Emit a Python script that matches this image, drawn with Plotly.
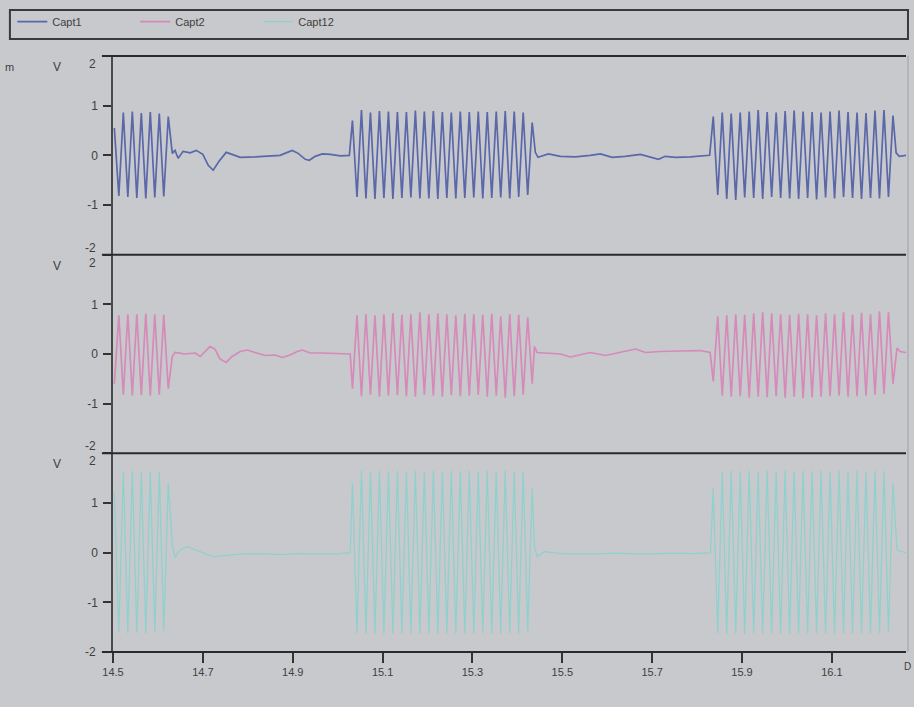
import plotly.graph_objects as go

# ---------------- data ----------------
HALF_PERIOD = 0.01          # s between successive extrema of the 50 Hz bursts
X_RANGE = [14.5, 16.265]
X_TICKS = [14.5, 14.7, 14.9, 15.1, 15.3, 15.5, 15.7, 15.9, 16.1]
Y_TICKS = [-2, -1, 0, 1, 2]
SERIES = ["Capt1", "Capt2", "Capt12"]

# burst start times (time of first extremum)
burst_t0 = [14.503, 15.033, 15.836]

# ---- Capt1 ----
c1_b1 = [0.55, -0.82, 0.86, -0.84, 0.88, -0.86, 0.85, -0.87, 0.87, -0.85, 0.84, -0.83, 0.78]
c1_b2 = [0.70, -0.84, 0.91, -0.87, 0.86, -0.88, 0.89, -0.86, 0.88, -0.88,
         0.87, -0.86, 0.87, -0.85, 0.90, -0.87, 0.88, -0.87, 0.89, -0.88,
         0.87, -0.86, 0.86, -0.87, 0.88, -0.86, 0.87, -0.85, 0.88, -0.87,
         0.87, -0.86, 0.88, -0.85, 0.89, -0.87, 0.88, -0.84, 0.86, -0.80, 0.66]
c1_b3 = [0.78, -0.80, 0.86, -0.88, 0.84, -0.90, 0.86, -0.85, 0.88, -0.86,
         0.91, -0.88, 0.87, -0.84, 0.86, -0.86, 0.89, -0.87, 0.90, -0.88,
         0.88, -0.86, 0.87, -0.89, 0.86, -0.85, 0.88, -0.87, 0.90, -0.84,
         0.87, -0.86, 0.86, -0.88, 0.85, -0.86, 0.90, -0.87, 0.91, -0.84, 0.80]
c1_q1_t = [14.632, 14.638, 14.645, 14.656, 14.672, 14.685, 14.700, 14.712, 14.723, 14.736,
           14.752, 14.765, 14.783, 14.816, 14.850, 14.872, 14.888, 14.899, 14.912, 14.928,
           14.937, 14.950, 14.966, 14.984, 15.006, 15.026]
c1_q1_v = [0.04, 0.10, -0.06, 0.08, 0.05, 0.10, 0.02, -0.20, -0.30, -0.12,
           0.06, 0.02, -0.04, -0.03, -0.02, 0.00, 0.06, 0.10, 0.04, -0.08,
           -0.10, -0.02, 0.03, 0.02, -0.01, 0.00]
c1_q2_t = [15.440, 15.446, 15.469, 15.496, 15.529, 15.562, 15.585, 15.611, 15.640, 15.674,
           15.696, 15.714, 15.729, 15.752, 15.785, 15.807, 15.828]
c1_q2_v = [0.06, -0.04, 0.03, -0.02, -0.03, 0.00, 0.03, -0.04, -0.02, 0.02,
           -0.03, -0.08, -0.02, -0.04, -0.03, -0.02, 0.00]
c1_tail_t = [16.243, 16.250, 16.265]
c1_tail_v = [0.05, -0.02, 0.00]

# ---- Capt2 ----
c2_b1 = [-0.60, 0.78, -0.82, 0.80, -0.84, 0.80, -0.83, 0.81, -0.84, 0.80, -0.82, 0.79, -0.70]
c2_b2 = [-0.70, 0.78, -0.85, 0.80, -0.82, 0.78, -0.86, 0.80, -0.84, 0.82,
         -0.83, 0.79, -0.85, 0.80, -0.86, 0.84, -0.82, 0.80, -0.84, 0.82,
         -0.86, 0.80, -0.83, 0.78, -0.85, 0.81, -0.84, 0.80, -0.82, 0.79,
         -0.86, 0.81, -0.84, 0.76, -0.88, 0.80, -0.85, 0.79, -0.82, 0.74, -0.60]
c2_b3 = [-0.55, 0.76, -0.84, 0.78, -0.86, 0.80, -0.85, 0.79, -0.88, 0.82,
         -0.86, 0.84, -0.87, 0.82, -0.85, 0.80, -0.88, 0.79, -0.86, 0.81,
         -0.89, 0.80, -0.87, 0.78, -0.86, 0.82, -0.85, 0.80, -0.84, 0.84,
         -0.86, 0.79, -0.85, 0.83, -0.84, 0.80, -0.82, 0.86, -0.80, 0.84, -0.60]
c2_q1_t = [14.632, 14.638, 14.660, 14.683, 14.694, 14.705, 14.716, 14.727, 14.738, 14.752,
           14.765, 14.783, 14.799, 14.816, 14.839, 14.861, 14.877, 14.894, 14.910, 14.921,
           14.939, 14.961, 14.984, 15.017, 15.028]
c2_q1_v = [-0.05, 0.03, 0.00, 0.02, -0.05, 0.05, 0.15, 0.10, -0.10, -0.17,
           -0.05, 0.05, 0.08, 0.03, -0.03, -0.02, -0.07, -0.02, 0.05, 0.08,
           0.02, 0.02, 0.01, 0.01, 0.00]
c2_q2_t = [15.438, 15.444, 15.462, 15.496, 15.518, 15.562, 15.596, 15.629, 15.663, 15.685,
           15.718, 15.763, 15.807, 15.829]
c2_q2_v = [0.15, 0.03, 0.02, 0.00, -0.06, 0.03, -0.03, 0.03, 0.10, 0.03,
           0.05, 0.06, 0.07, 0.03]
c2_tail_t = [16.245, 16.252, 16.265]
c2_tail_v = [0.12, 0.05, 0.03]

# ---- Capt12 ----
c3_b1 = [1.20, -1.60, 1.64, -1.62, 1.64, -1.61, 1.63, -1.62, 1.64, -1.60, 1.63, -1.58, 1.40]
c3_b2 = [1.40, -1.62, 1.65, -1.63, 1.64, -1.62, 1.65, -1.63, 1.64, -1.63,
         1.65, -1.62, 1.64, -1.63, 1.65, -1.62, 1.64, -1.63, 1.65, -1.63,
         1.64, -1.62, 1.65, -1.63, 1.64, -1.62, 1.65, -1.63, 1.64, -1.62,
         1.65, -1.63, 1.64, -1.63, 1.65, -1.62, 1.64, -1.62, 1.63, -1.58, 1.30]
c3_b3 = [1.30, -1.62, 1.64, -1.63, 1.65, -1.62, 1.64, -1.64, 1.65, -1.62,
         1.63, -1.63, 1.65, -1.62, 1.64, -1.63, 1.65, -1.64, 1.64, -1.62,
         1.65, -1.63, 1.64, -1.62, 1.65, -1.64, 1.64, -1.63, 1.65, -1.62,
         1.64, -1.63, 1.65, -1.62, 1.64, -1.63, 1.65, -1.62, 1.64, -1.60, 1.40]
c3_q1_t = [14.632, 14.638, 14.648, 14.665, 14.683, 14.705, 14.723, 14.750, 14.783, 14.827,
           14.872, 14.916, 14.961, 15.005, 15.028]
c3_q1_v = [0.15, -0.10, 0.05, 0.12, 0.05, -0.02, -0.08, -0.06, -0.03, -0.02,
           -0.04, -0.02, -0.03, -0.02, 0.00]
c3_q2_t = [15.438, 15.444, 15.460, 15.500, 15.560, 15.620, 15.680, 15.740, 15.790, 15.830]
c3_q2_v = [0.12, -0.08, 0.02, -0.02, -0.03, -0.01, -0.03, -0.01, -0.02, 0.00]
c3_tail_t = [16.245, 16.265]
c3_tail_v = [0.05, 0.00]

# ---------------- assemble ----------------
def burst(t0, vals):
    return [t0 + i * HALF_PERIOD for i in range(len(vals))], list(vals)

def assemble(bursts, quiets):
    xs, ys = [], []
    for k, b in enumerate(bursts):
        bx, by = burst(burst_t0[k], b)
        xs += bx; ys += by
        qx, qy = quiets[k]
        xs += list(qx); ys += list(qy)
    return xs, ys

x1, y1 = assemble([c1_b1, c1_b2, c1_b3], [(c1_q1_t, c1_q1_v), (c1_q2_t, c1_q2_v), (c1_tail_t, c1_tail_v)])
x2, y2 = assemble([c2_b1, c2_b2, c2_b3], [(c2_q1_t, c2_q1_v), (c2_q2_t, c2_q2_v), (c2_tail_t, c2_tail_v)])
x3, y3 = assemble([c3_b1, c3_b2, c3_b3], [(c3_q1_t, c3_q1_v), (c3_q2_t, c3_q2_v), (c3_tail_t, c3_tail_v)])

COLORS = ["#5a67a8", "#d58ab9", "#8fd1cd"]
BG = "#c8c9cd"
FONT = "Liberation Sans, Arial, sans-serif"
TXT = "#404040"

fig = go.Figure()
fig.add_trace(go.Scatter(x=x1, y=y1, mode="lines", name=SERIES[0], yaxis="y",
                         line=dict(color=COLORS[0], width=1.7)))
fig.add_trace(go.Scatter(x=x2, y=y2, mode="lines", name=SERIES[1], yaxis="y2",
                         line=dict(color=COLORS[1], width=1.7)))
fig.add_trace(go.Scatter(x=x3, y=y3, mode="lines", name=SERIES[2], yaxis="y3",
                         line=dict(color=COLORS[2], width=1.3)))

def yax(domain):
    return dict(domain=domain, range=[-2, 2], anchor="x", tickvals=Y_TICKS,
                ticktext=["", "-1", "0", "1", ""], ticks="outside", ticklen=8,
                tickwidth=1.5, tickcolor="#333", showline=True, linecolor="#4a4a4a",
                linewidth=1.5, showgrid=False, zeroline=False,
                tickfont=dict(size=12, color=TXT, family=FONT), ticklabelstandoff=3)

fig.update_layout(
    width=914, height=707,
    margin=dict(l=113, r=8, t=55, b=55),
    paper_bgcolor=BG, plot_bgcolor=BG,
    font=dict(family=FONT, size=11, color=TXT),
    xaxis=dict(domain=[0, 1], range=X_RANGE, anchor="y3", tickvals=X_TICKS,
               ticktext=[f"{v:.1f}" for v in X_TICKS], ticks="outside", ticklen=10,
               tickwidth=1.5, tickcolor="#333", showline=False, showgrid=False,
               zeroline=False, tickfont=dict(size=11, color=TXT, family=FONT)),
    yaxis=yax([2 / 3, 1]),
    yaxis2=yax([1 / 3, 2 / 3]),
    yaxis3=yax([0, 1 / 3]),
    showlegend=True,
    legend=dict(orientation="h", x=-0.127, xanchor="left", y=1.056, yanchor="middle",
                bgcolor="rgba(0,0,0,0)", font=dict(size=11, color=TXT, family=FONT),
                entrywidth=78, entrywidthmode="pixels", itemwidth=30),
)

shapes = []
for yp in [1, 2 / 3, 1 / 3, 0]:
    shapes.append(dict(type="line", xref="paper", yref="paper", x0=-0.014, x1=1.0,
                       y0=yp, y1=yp, line=dict(color="#2a2a2a", width=2)))
# legend frame
shapes.append(dict(type="rect", xref="paper", yref="paper", x0=-0.130, x1=1.0025,
                   y0=1.0285, y1=1.077, line=dict(color="#3a3a3a", width=2),
                   fillcolor="rgba(0,0,0,0)"))
# right border
shapes.append(dict(type="line", xref="paper", yref="paper", x0=1.0025, x1=1.0025,
                   y0=0, y1=1.0, line=dict(color="#a0a1a5", width=1)))
fig.update_layout(shapes=shapes)

ann = []
for ax in ["y", "y2", "y3"]:
    ann.append(dict(text="V", xref="paper", x=-0.0706, yref=f"{ax} domain", y=1,
                    yshift=-11, showarrow=False, xanchor="center", yanchor="middle",
                    font=dict(size=12, color=TXT, family=FONT)))
    ann.append(dict(text="2", xref="paper", x=-0.019, xanchor="right", yref=ax, y=2,
                    yshift=-8, showarrow=False, yanchor="middle",
                    font=dict(size=12, color=TXT, family=FONT)))
    ann.append(dict(text="-2", xref="paper", x=-0.019, xanchor="right", yref=ax, y=-2,
                    yshift=(0 if ax == "y3" else 7), showarrow=False, yanchor="middle",
                    font=dict(size=12, color=TXT, family=FONT)))
ann.append(dict(text="m", xref="paper", x=-0.13, yref="paper", y=1, yshift=-11,
                showarrow=False, xanchor="center", yanchor="middle",
                font=dict(size=11, color=TXT, family=FONT)))
ann.append(dict(text="D", xref="paper", x=1.009, yref="paper", y=0, yshift=-14,
                showarrow=False, xanchor="right", yanchor="middle",
                font=dict(size=10, color=TXT, family=FONT)))
fig.update_layout(annotations=ann)

fig.write_html("out.html", config={"displayModeBar": False},
               post_script="document.body.style.margin='0px';")
